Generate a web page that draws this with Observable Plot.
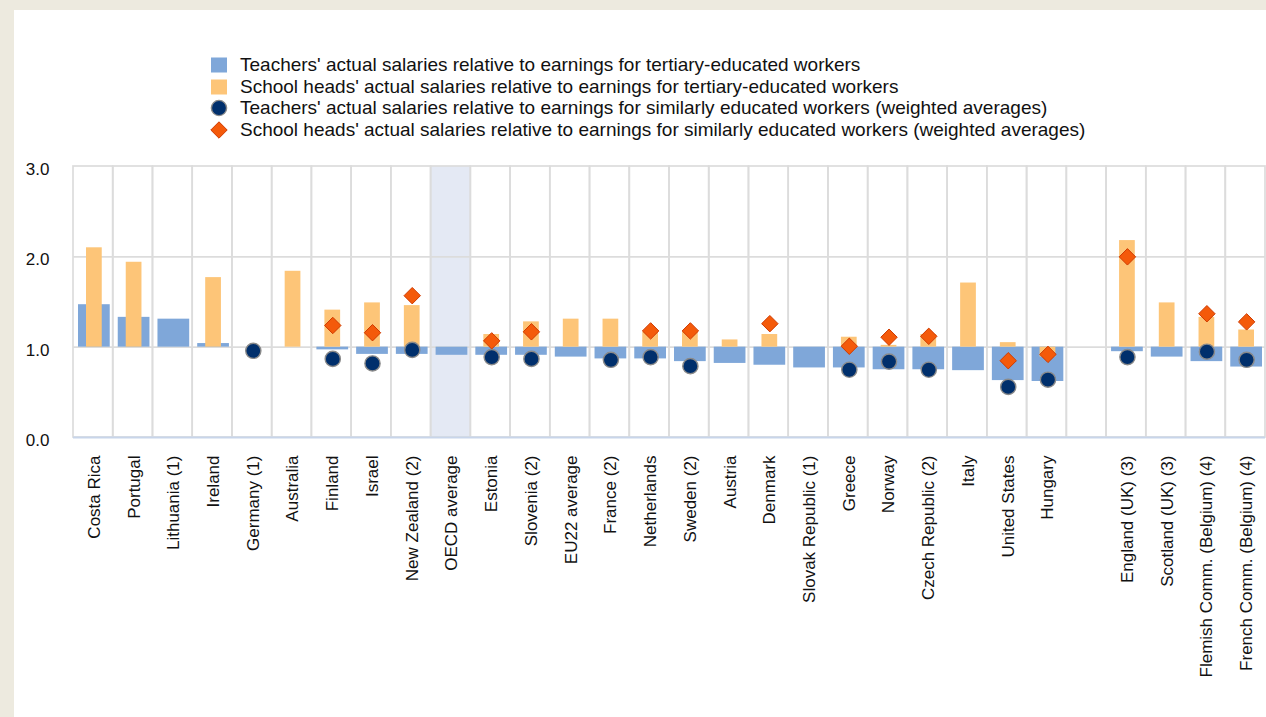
<!DOCTYPE html>
<html>
<head>
<meta charset="utf-8">
<script src="https://cdn.jsdelivr.net/npm/d3@7"></script>
<script src="https://cdn.jsdelivr.net/npm/@observablehq/plot@0.6"></script>
<style>
  html, body { margin: 0; padding: 0; }
  body {
    width: 1266px; height: 717px; overflow: hidden;
    background: #edeadf; position: relative;
    font-family: Arial, "Liberation Sans", sans-serif; color: #111;
  }
  #panel { position: absolute; left: 14px; top: 10px; width: 1252px; height: 707px; background: #fff; }
  #legend { position: absolute; left: 196px; top: 44px; font-size: 19px; line-height: 21.7px; }
  #legend .row { display: flex; align-items: center; height: 21.7px; white-space: nowrap; }
  #legend svg { width: 18px; height: 18px; margin-right: 12px; flex: none; }
  #chart { position: absolute; left: 0; top: 140px; }
</style>
</head>
<body>
<div id="panel">
  <div id="legend"></div>
  <div id="chart"></div>
</div>
<script>
// Countries / economies along the x axis; " " is the empty spacer column before the sub-national entities
const countries = [
  "Costa Rica", "Portugal", "Lithuania (1)", "Ireland", "Germany (1)", "Australia",
  "Finland", "Israel", "New Zealand (2)", "OECD average", "Estonia", "Slovenia (2)",
  "EU22 average", "France (2)", "Netherlands", "Sweden (2)", "Austria", "Denmark",
  "Slovak Republic (1)", "Greece", "Norway", "Czech Republic (2)", "Italy",
  "United States", "Hungary", " ", "England (UK) (3)", "Scotland (UK) (3)",
  "Flemish Comm. (Belgium) (4)", "French Comm. (Belgium) (4)"
];

// Teachers' actual salaries relative to earnings for tertiary-educated workers
const teachersTertiary = [
  1.47, 1.33, 1.31, 1.04, null, null,
  0.97, 0.92, 0.92, 0.91, 0.91, 0.91,
  0.89, 0.87, 0.87, 0.84, 0.82, 0.80,
  0.77, 0.77, 0.75, 0.75, 0.74,
  0.63, 0.62, null, 0.95, 0.89,
  0.84, 0.78
];

// School heads' actual salaries relative to earnings for tertiary-educated workers
const headsTertiary = [
  2.10, 1.94, null, 1.77, null, 1.84,
  1.41, 1.49, 1.46, null, 1.14, 1.28,
  1.31, 1.31, 1.17, 1.17, 1.08, 1.14,
  null, 1.11, 1.02, 1.14, 1.71,
  1.05, 0.89, null, 2.18, 1.49,
  1.33, 1.19
];

// Teachers' actual salaries relative to similarly educated workers (weighted averages)
const teachersSimilar = [
  null, null, null, null, 0.96, null,
  0.87, 0.82, 0.97, null, 0.89, 0.87,
  null, 0.86, 0.89, 0.79, null, null,
  null, 0.75, 0.84, 0.75, null,
  0.56, 0.64, null, 0.89, null,
  0.95, 0.86
];

// School heads' actual salaries relative to similarly educated workers (weighted averages)
const headsSimilar = [
  null, null, null, null, null, null,
  1.24, 1.16, 1.57, null, 1.07, 1.17,
  null, null, 1.18, 1.18, null, 1.26,
  null, 1.01, 1.11, 1.12, null,
  0.85, 0.92, null, 2.00, null,
  1.37, 1.28
];

const yTicks = [0, 1, 2, 3];
const highlighted = ["OECD average"];

const legendItems = [
  { kind: "square", color: "#7fa7d9", label: "Teachers' actual salaries relative to earnings for tertiary-educated workers" },
  { kind: "square", color: "#fdc578", label: "School heads' actual salaries relative to earnings for tertiary-educated workers" },
  { kind: "circle", color: "#002f6c", label: "Teachers' actual salaries relative to earnings for similarly educated workers (weighted averages)" },
  { kind: "diamond", color: "#f45a0a", label: "School heads' actual salaries relative to earnings for similarly educated workers (weighted averages)" }
];

const COLORS = {
  teachersBar: "#7fa7d9",
  headsBar: "#fdc578",
  dot: "#002f6c",
  dotStroke: "#8a8a8a",
  diamond: "#f45a0a",
  diamondStroke: "#cf3a00",
  grid: "#dcdcdc",
  band: "#e4e9f4",
  baseline: "#c8d5ea"
};

// Legend
const legend = document.getElementById("legend");
for (const item of legendItems) {
  const row = document.createElement("div");
  row.className = "row";
  let sym;
  if (item.kind === "square") {
    sym = `<rect x="1" y="1.5" width="16" height="15" fill="${item.color}"/>`;
  } else if (item.kind === "circle") {
    sym = `<circle cx="9" cy="9" r="7.6" fill="${item.color}" stroke="${COLORS.dotStroke}" stroke-width="1.4"/>`;
  } else {
    sym = `<path d="M9 0.8 L17.2 9 L9 17.2 L0.8 9 Z" fill="${item.color}" stroke="${COLORS.diamondStroke}" stroke-width="1"/>`;
  }
  row.innerHTML = `<svg viewBox="0 0 18 18">${sym}</svg><span>${item.label}</span>`;
  legend.appendChild(row);
}

// Table rows built from the arrays
const rows = countries.map((c, i) => ({
  country: c,
  tt: teachersTertiary[i],
  ht: headsTertiary[i],
  ts: teachersSimilar[i],
  hs: headsSimilar[i]
}));

const chart = Plot.plot({
  width: 1252,
  height: 570,
  marginLeft: 59,
  marginRight: 1,
  marginTop: 16,
  marginBottom: 283,
  style: {
    background: "transparent",
    fontFamily: 'Arial, "Liberation Sans", sans-serif',
    fontSize: "17px",
    color: "#111"
  },
  x: { domain: countries, padding: 0, round: false, axis: null },
  y: { domain: [0, 3], axis: null },
  marks: [
    // shaded OECD average column
    Plot.barY(highlighted, { x: d => d, y1: 0, y2: 3, fill: COLORS.band }),
    // column grid (vertical separators + top edge)
    Plot.barY(countries, { x: d => d, y1: 0, y2: 3, fill: "none", stroke: COLORS.grid, strokeWidth: 1.7 }),
    Plot.ruleY([1, 2], { stroke: COLORS.grid, strokeWidth: 1.7 }),
    Plot.ruleY([0], { stroke: COLORS.baseline, strokeWidth: 2 }),
    // teachers (tertiary-educated) bars, from parity 1.0
    Plot.barY(rows.filter(d => d.tt != null), {
      x: "country", y1: 1, y2: "tt", fill: COLORS.teachersBar, insetLeft: 5, insetRight: 3
    }),
    // school heads (tertiary-educated) bars
    Plot.barY(rows.filter(d => d.ht != null), {
      x: "country", y1: 1, y2: "ht", fill: COLORS.headsBar, insetLeft: 13, insetRight: 11
    }),
    // teachers vs similarly educated workers
    Plot.dot(rows.filter(d => d.ts != null), {
      x: "country", y: "ts", r: 7.6, fill: COLORS.dot, stroke: COLORS.dotStroke, strokeWidth: 1.4, dx: 1
    }),
    // school heads vs similarly educated workers
    Plot.dot(rows.filter(d => d.hs != null), {
      x: "country", y: "hs", symbol: "diamond2", r: 7.4, fill: COLORS.diamond, stroke: COLORS.diamondStroke, strokeWidth: 1, dx: 1
    }),
    Plot.axisY({
      ticks: yTicks, tickFormat: d3.format(".1f"), tickSize: 0, tickPadding: 24,
      fontSize: 17, dy: 3, label: null, fill: "#111"
    }),
    Plot.axisX({
      tickRotate: -90, tickSize: 0, tickPadding: 18, fontSize: 17, label: null, fill: "#111",
      dx: 1, tickFormat: d => d.trim()
    })
  ]
});

document.getElementById("chart").appendChild(chart);
</script>
</body>
</html>
